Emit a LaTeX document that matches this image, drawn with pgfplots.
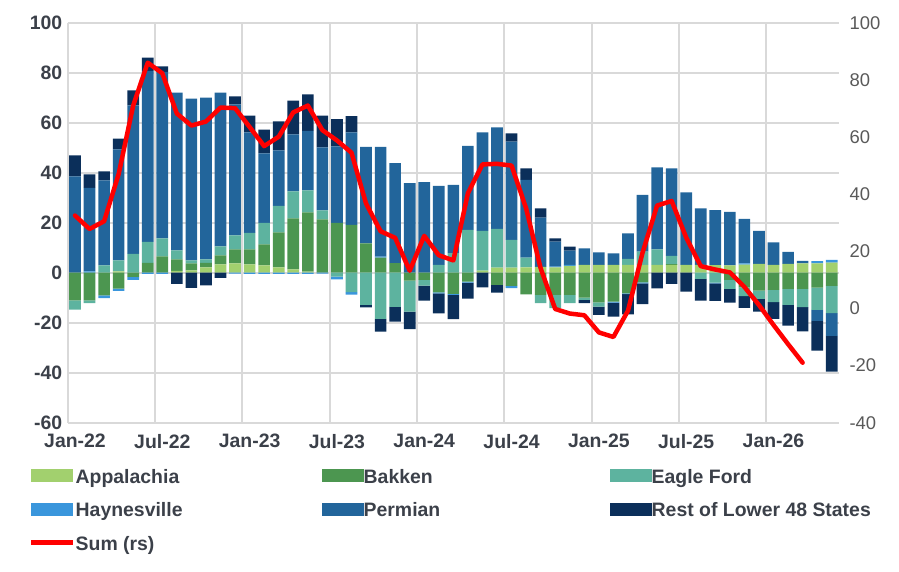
\documentclass[border=0pt]{standalone}
\usepackage{pgfplots}
\pgfplotsset{compat=1.18}
\usepackage{pgfplotstable}
\usepackage{fontspec}
\setmainfont{Liberation Sans}
\definecolor{cApp}{RGB}{162,208,110}
\definecolor{cBak}{RGB}{76,150,80}
\definecolor{cEF}{RGB}{93,179,159}
\definecolor{cHay}{RGB}{58,150,220}
\definecolor{cPerm}{RGB}{34,101,155}
\definecolor{cRest}{RGB}{11,47,90}
\definecolor{cGrid}{RGB}{217,217,217}
\definecolor{cText}{RGB}{59,64,73}
\definecolor{cText2}{RGB}{89,89,89}

\pgfplotstableread{
k App Bak EF Hay Perm Rest
0 0 0 0 0 38.5 8.4
1 0 0 0 0.5 33.4 5.4
2 0 0 2.9 0 34.0 3.6
3 0.5 0 4.4 0 44.4 4.3
4 0 0 7.5 0 59.4 6.0
5 0 3.9 8.4 0 68.4 5.3
6 0 6.5 7.2 0 66.6 2.2
7 0.7 4.6 3.6 0 63.1 0
8 0.9 2.8 1.2 0 64.7 0
9 2.1 1.8 1.4 0 64.7 0
10 3.3 3.6 3.6 0 61.5 0
11 3.7 5.6 5.6 0 52.4 3.2
12 3.3 6.0 6.6 0 40.2 6.7
13 2.9 8.4 8.6 0 27.8 9.5
14 2.1 14.0 10.6 0 22.2 11.6
15 1.3 20.4 10.8 0 22.8 13.5
16 0.4 23.7 8.8 0 23.8 14.6
17 0 21.3 3.6 0 25.2 12.7
18 0 19.9 0 0 30.6 10.9
19 0 19.1 0 0 37.0 6.5
20 0 11.7 0 0 38.6 0
21 0 6.0 0 0.4 43.9 0
22 0 3.8 0 0 40.0 0
23 0 0 0 0 35.8 0
24 0 0 0 0 36.2 0
25 0 0 3.1 0 31.6 0
26 0 0 7.8 0 27.3 0
27 0 0 17.1 0 33.6 0
28 0.8 0 15.9 0 39.4 0
29 2.0 0 15.5 0 40.6 0
30 2.0 0 11.1 0 39.3 3.3
31 2.1 0 3.9 0 31.1 4.6
32 2.3 0 0 0 19.7 3.7
33 2.1 0 0 0.3 10.0 1.3
34 2.7 0 0 0.4 5.7 1.6
35 3.1 0 0 0 6.6 0
36 3.1 0 0 0 5.0 0
37 3.1 0 0 0 4.6 0
38 3.1 0 2.4 0 10.2 0
39 3.1 0 5.3 0 22.7 0
40 3.1 0 6.2 0 32.8 0
41 3.1 0.3 3.3 0 35.0 0
42 3.1 0 0 0 29.0 0
43 3.1 0 0 0 22.6 0
44 3.0 0 0 0 22.0 0
45 2.9 0 0 0 21.4 0
46 3.2 0 0 0.5 17.8 0
47 3.5 0 0 0 13.2 0
48 3.1 0 0 0 9.0 0
49 3.5 0 0 0 4.8 0
50 3.7 0 0 0 1.0 0
51 3.7 0 0 0.9 0 0
52 4.0 0 0 1.1 0 0
}\postab

\pgfplotstableread{
k App Bak EF Hay Perm Rest
0 0 -11.1 -3.7 0 0 0
1 0 -11.1 -1.1 0 0 0
2 0 -9.1 0 -1.1 0 0
3 0 -6.4 0 -0.9 0 0
4 0 -1.7 0 -1.2 0 0
5 0 0 0 -0.5 0 0
6 0 0 0 -0.5 0 0
7 0 0 0 0 0 -4.5
8 0 0 0 0 0 -6.1
9 0 0 0 0 0 -5.1
10 0 0 0 0 0 -2.1
11 0 0 0 -0.4 0 0
12 0 0 0 -0.5 0 0
13 0 0 0 -0.5 0 0
14 0 0 0 -0.5 0 0
15 0 0 0 -0.5 0 0
16 0 0 0 -0.5 0 0
17 0 0 0 -0.4 0 0
18 0 0 -1.6 -1.1 0 0
19 0 0 -7.8 -1.0 0 0
20 0 0 -12.9 0 0 -1.0
21 0 0 -18.5 0 0 -5.1
22 0 0 -13.7 0 0 -5.9
23 0 -3.2 -12.4 0 0 -7.0
24 0 -2.9 -2.3 0 0 -6.0
25 0 -7.9 0 -0.4 0 -8.0
26 0 -8.5 0 -0.4 0 -9.7
27 0 -3.6 0 -0.4 0 -6.4
28 0 0 0 0 0 -5.9
29 0 -4.9 0 0 0 -3.1
30 0 -5.3 0 -0.9 0 0
31 0 -8.7 0 0 0 0
32 0 -8.9 -3.3 0 0 0
33 0 -8.9 -5.3 0 0 0
34 0 -8.9 -3.3 0 0 0
35 0 -10.0 -0.9 0 0 -1.3
36 0 -11.9 -1.7 0 0 -3.3
37 0 -11.6 0 -0.4 0 -5.6
38 0 -8.3 0 -0.3 0 -8.1
39 0 -3.9 0 -0.4 0 -8.3
40 0 0 0 0 0 -6.3
41 0 0 0 0 0 -4.5
42 0 0 0 0 0 -7.6
43 0 0 -2.5 0 0 -8.7
44 0 0 -4.0 -0.3 0 -7.0
45 0 -2.9 -3.6 0 0 -5.5
46 0 -5.9 -3.5 0 0 -4.7
47 0 -7.2 -3.3 0 0 -5.1
48 0 -6.9 -4.9 0 0 -6.7
49 0 -6.5 -6.4 0 0 -8.3
50 0 -6.5 -7.3 0 0 -9.7
51 0 -6.0 -8.9 0 -4.4 -11.9
52 0 -5.3 -10.9 0 -9.1 -14.3
}\negtab

\pgfplotstableread{
k S
0 32.5
1 27.8
2 30.5
3 47.0
4 71.0
5 86.0
6 82.3
7 68.2
8 64.0
9 65.4
10 70.3
11 70.1
12 63.5
13 56.8
14 60.1
15 68.6
16 71.0
17 62.4
18 58.8
19 54.5
20 36.7
21 27.0
22 24.7
23 13.2
24 25.4
25 18.6
26 16.8
27 40.3
28 50.4
29 50.6
30 50.0
31 35.0
32 14.0
33 -0.2
34 -1.8
35 -2.4
36 -8.4
37 -10.0
38 -0.8
39 19.5
40 36.0
41 37.6
42 24.8
43 14.8
44 13.6
45 12.6
46 7.5
47 1.2
48 -5.8
49 -12.5
50 -19.0
}\sumtab

\pgfplotsset{
  base/.style={
    scale only axis, width=771.3bp, height=400bp,
    xmin=-0.5, xmax=52.5, ymin=-60, ymax=100,
    enlargelimits=false,
    at={(67.7bp,149.3bp)}, anchor=south west,
  },
  swatch legend/.style={legend image code/.code={\fill[##1] (0bp,-6.65bp) rectangle (42bp,6.65bp);}},
  sumline legend/.style={legend image code/.code={\draw[##1] (0bp,0bp) -- (42bp,0bp);}},
}
\newcommand{\lfont}{\fontsize{19.5}{23.4}\selectfont\bfseries}
\newcommand{\legitem}[1]{\makebox[246bp][l]{\rule[-7bp]{0pt}{23.4bp}#1}}

\begin{document}
\begin{tikzpicture}
\useasboundingbox (0,0) rectangle (899bp,572bp);
% positives, grid, labels, legend
\begin{axis}[base,
  ybar stacked, bar width=0.8,
  swatch legend,
  axis line style={draw=none},
  ytick={-60,-40,...,100},
  xtick={-0.5,5.5,...,47.5}, xticklabels={},
  ymajorgrids, xmajorgrids,
  grid style={cGrid, line width=1.8bp},
  major tick length=0,
  extra x ticks={0,6,...,48},
  extra x tick labels={Jan-22,Jul-22,Jan-23,Jul-23,Jan-24,Jul-24,Jan-25,Jul-25,Jan-26},
  extra x tick style={grid=none, major tick length=0},
  tick label style={font=\lfont, text=cText},
  xticklabel style={yshift=-8bp},
  yticklabel style={xshift=-2bp},
  /pgf/number format/assume math mode=true,
  legend columns=3,
  legend style={at={(axis description cs:-0.0502,-0.10975)}, anchor=north west,
    draw=none, fill=none, inner sep=0pt, column sep=0pt, row sep=15.6bp,
    font=\lfont, text=cText, nodes={inner sep=0pt}},
]
\addplot[fill=cApp, draw=none] table[x=k,y=App]{\postab};
\addplot[fill=cBak, draw=none] table[x=k,y=Bak]{\postab};
\addplot[fill=cEF, draw=none] table[x=k,y=EF]{\postab};
\addplot[fill=cHay, draw=none] table[x=k,y=Hay]{\postab};
\addplot[fill=cPerm, draw=none] table[x=k,y=Perm]{\postab};
\addplot[fill=cRest, draw=none] table[x=k,y=Rest]{\postab};
\addlegendimage{red, line width=4.5bp, sumline legend}
\legend{\legitem{Appalachia},\legitem{Bakken},\legitem{Eagle Ford},\legitem{Haynesville},\legitem{Permian},\legitem{Rest of Lower 48 States},\legitem{Sum (rs)}}
\end{axis}
% negatives
\begin{axis}[base, ybar stacked, bar width=0.8, hide axis]
\addplot[fill=cApp, draw=none] table[x=k,y=App]{\negtab};
\addplot[fill=cBak, draw=none] table[x=k,y=Bak]{\negtab};
\addplot[fill=cEF, draw=none] table[x=k,y=EF]{\negtab};
\addplot[fill=cHay, draw=none] table[x=k,y=Hay]{\negtab};
\addplot[fill=cPerm, draw=none] table[x=k,y=Perm]{\negtab};
\addplot[fill=cRest, draw=none] table[x=k,y=Rest]{\negtab};
\end{axis}
% sum line, right axis
\begin{axis}[base, ymin=-40, ymax=100,
  axis x line=none, axis y line*=right,
  axis line style={draw=none},
  ytick={-40,-20,...,100}, major tick length=0,
  yticklabel style={font=\fontsize{18.5}{22}\selectfont, text=cText2, xshift=7bp},
  /pgf/number format/assume math mode=true,
]
\addplot[red, line width=4.5bp, line join=round, line cap=round, mark=none] table[x=k,y=S]{\sumtab};
\end{axis}
\end{tikzpicture}
\end{document}
